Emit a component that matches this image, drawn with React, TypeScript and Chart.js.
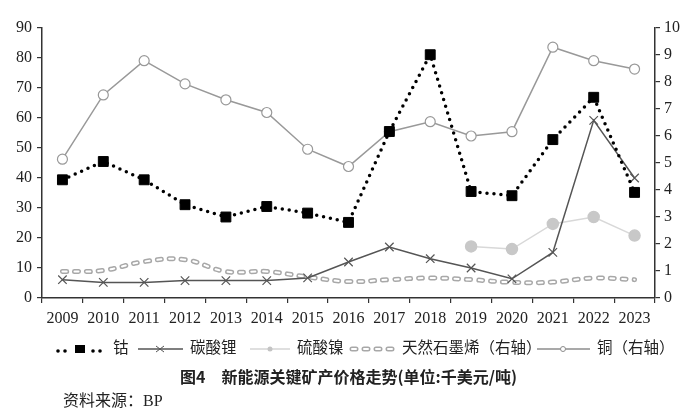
import React, { useEffect, useRef } from "react";
import { Chart, registerables } from "chart.js";

Chart.register(...registerables);

const SERIF = '"Liberation Serif", "Times New Roman", Times, serif';
Chart.defaults.font.family = SERIF;

const years = ["2009", "2010", "2011", "2012", "2013", "2014", "2015", "2016", "2017", "2018", "2019", "2020", "2021", "2022", "2023"];
const cobalt = [39.4, 45.5, 39.4, 31.1, 27, 30.5, 28.3, 25.2, 55.5, 81.1, 35.5, 34.1, 52.8, 66.9, 35.2];
const lithium = [6.1, 5.2, 5.2, 5.8, 5.8, 5.8, 6.7, 12, 17, 13.1, 10, 6.4, 15.2, 59.2, 40];
const nickel = [null, null, null, null, null, null, null, null, null, null, 17.2, 16.3, 24.7, 27, 20.8];
const graphite = [0.98, 1.02, 1.35, 1.42, 0.98, 0.98, 0.78, 0.61, 0.68, 0.74, 0.68, 0.58, 0.59, 0.74, 0.68];
const copper = [5.14, 7.52, 8.79, 7.93, 7.34, 6.87, 5.51, 4.87, 6.16, 6.53, 6.0, 6.16, 9.29, 8.79, 8.48];

const legendLabels = ["钴", "碳酸锂", "硫酸镍", "天然石墨烯（右轴）", "铜（右轴）"];
const titleText = "图4\u3000新能源关键矿产价格走势(单位:千美元/吨)";
const sourceText = "资料来源：BP";

const legendPlugin = {
  id: "customLegend",
  afterDraw(chart: any) {
    const ctx = chart.ctx as CanvasRenderingContext2D;
    const y = 349;
    ctx.save();
    // cobalt
    ctx.fillStyle = "#000";
    [58, 65, 93, 100].forEach((x) => {
      ctx.beginPath();
      ctx.arc(x, y + 2, 1.8, 0, Math.PI * 2);
      ctx.fill();
    });
    ctx.fillRect(75, y - 4, 10, 8);
    // lithium
    ctx.strokeStyle = "#555";
    ctx.lineWidth = 1.5;
    ctx.beginPath();
    ctx.moveTo(138, y);
    ctx.lineTo(183, y);
    ctx.stroke();
    ctx.lineWidth = 1;
    ctx.beginPath();
    ctx.moveTo(156, y - 3);
    ctx.lineTo(164, y + 3);
    ctx.moveTo(156, y + 3);
    ctx.lineTo(164, y - 3);
    ctx.stroke();
    // nickel
    ctx.strokeStyle = "#d4d4d4";
    ctx.lineWidth = 1.5;
    ctx.beginPath();
    ctx.moveTo(250, y);
    ctx.lineTo(290, y);
    ctx.stroke();
    ctx.fillStyle = "#c4c4c4";
    ctx.beginPath();
    ctx.arc(270, y, 2.5, 0, Math.PI * 2);
    ctx.fill();
    // graphite
    ctx.lineCap = "round";
    ctx.setLineDash([4, 8]);
    ctx.strokeStyle = "#a8a8a8";
    ctx.lineWidth = 5;
    ctx.beginPath();
    ctx.moveTo(352, y);
    ctx.lineTo(395, y);
    ctx.stroke();
    ctx.strokeStyle = "#fff";
    ctx.lineWidth = 2;
    ctx.beginPath();
    ctx.moveTo(352, y);
    ctx.lineTo(395, y);
    ctx.stroke();
    ctx.setLineDash([]);
    ctx.lineCap = "butt";
    // copper
    ctx.strokeStyle = "#8c8c8c";
    ctx.lineWidth = 1.5;
    ctx.beginPath();
    ctx.moveTo(537, y);
    ctx.lineTo(590, y);
    ctx.stroke();
    ctx.fillStyle = "#fff";
    ctx.lineWidth = 1;
    ctx.beginPath();
    ctx.arc(563, y, 2.5, 0, Math.PI * 2);
    ctx.fill();
    ctx.stroke();
    // text
    ctx.fillStyle = "#222";
    ctx.font = '15.5px "Liberation Serif", "Noto Sans CJK SC", serif';
    ctx.textBaseline = "middle";
    ctx.textAlign = "left";
    const xs = [113, 190, 297, 402, 597];
    legendLabels.forEach((t, i) => ctx.fillText(t, xs[i], y));
    ctx.restore();
  },
};

const tickFont = { size: 16, family: SERIF };

export default function App() {
  const ref = useRef<HTMLCanvasElement | null>(null);
  useEffect(() => {
    if (!ref.current) return;
    const chart = new Chart(ref.current, {
      type: "line",
      data: {
        labels: years,
        datasets: [
          {
            label: legendLabels[0],
            data: cobalt,
            yAxisID: "y",
            order: 0,
            borderColor: "#000",
            borderWidth: 3.5,
            borderDash: [0, 7],
            borderCapStyle: "round",
            pointStyle: "rect",
            pointRadius: 7,
            pointBackgroundColor: "#000",
            pointBorderColor: "#000",
            pointBorderWidth: 1,
          },
          {
            label: legendLabels[1],
            data: lithium,
            yAxisID: "y",
            order: 1,
            borderColor: "#555",
            borderWidth: 1.5,
            pointStyle: "crossRot",
            pointRadius: 6,
            pointBorderColor: "#555",
            pointBorderWidth: 1.2,
          },
          {
            label: legendLabels[2],
            data: nickel,
            yAxisID: "y",
            order: 3,
            borderColor: "#d8d8d8",
            borderWidth: 1.5,
            pointStyle: "circle",
            pointRadius: 5.5,
            pointBackgroundColor: "#c8c8c8",
            pointBorderColor: "#c8c8c8",
          },
          {
            label: legendLabels[3],
            data: graphite,
            yAxisID: "y1",
            order: 4,
            borderColor: "#fff",
            borderWidth: 2,
            borderDash: [4, 8],
            borderCapStyle: "round",
            tension: 0.4,
            pointRadius: 0,
          },
          {
            label: legendLabels[3] + "_outline",
            data: graphite,
            yAxisID: "y1",
            order: 5,
            borderColor: "#a8a8a8",
            borderWidth: 5,
            borderDash: [4, 8],
            borderCapStyle: "round",
            tension: 0.4,
            pointRadius: 0,
          },
          {
            label: legendLabels[4],
            data: copper,
            yAxisID: "y1",
            order: 2,
            borderColor: "#999",
            borderWidth: 1.5,
            pointStyle: "circle",
            pointRadius: 5,
            pointBackgroundColor: "#fff",
            pointBorderColor: "#999",
            pointBorderWidth: 1.2,
          },
        ],
      },
      options: {
        animation: false,
        responsive: true,
        maintainAspectRatio: false,
        layout: { padding: { top: 28, bottom: 92, left: 0, right: 0 } },
        plugins: { legend: { display: false }, tooltip: { enabled: false } },
        scales: {
          x: {
            type: "category",
            offset: true,
            grid: { offset: true, drawOnChartArea: false, tickLength: 5, color: "#333", lineWidth: 1.2 },
            border: { color: "#333", width: 1.5 },
            ticks: { color: "#222", padding: 6, font: tickFont, maxRotation: 0, autoSkip: false },
            afterFit: (s: any) => { s.height = 30; },
          },
          y: {
            position: "left",
            min: 0,
            max: 90,
            ticks: { stepSize: 10, color: "#222", padding: 5, font: tickFont },
            grid: { drawOnChartArea: false, tickLength: 5, color: "#333", lineWidth: 1.2 },
            border: { color: "#333", width: 1.5 },
            afterFit: (s: any) => { s.width = 42; },
          },
          y1: {
            position: "right",
            min: 0,
            max: 10,
            ticks: { stepSize: 1, color: "#222", padding: 4, font: tickFont },
            grid: { drawOnChartArea: false, tickLength: 5, color: "#333", lineWidth: 1.2 },
            border: { color: "#333", width: 1.5 },
            afterFit: (s: any) => { s.width = 45; },
          },
        },
      },
      plugins: [legendPlugin],
    } as any);
    return () => chart.destroy();
  }, []);

  return (
    <div style={{ position: "absolute", left: 0, top: 0, width: 700, height: 420, background: "#fff" }}>
      <canvas ref={ref} />
      <div
        style={{
          position: "absolute",
          left: 180,
          top: 365,
          fontFamily: "'Noto Sans CJK SC', sans-serif",
          fontWeight: "bold",
          fontSize: 16,
          lineHeight: "22px",
          color: "#222",
          whiteSpace: "nowrap",
        }}
      >
        {titleText}
      </div>
      <div
        style={{
          position: "absolute",
          left: 63,
          top: 390,
          fontFamily: SERIF + ", 'Noto Sans CJK SC'",
          fontSize: 16,
          lineHeight: "22px",
          color: "#222",
          whiteSpace: "nowrap",
        }}
      >
        {sourceText}
      </div>
    </div>
  );
}
